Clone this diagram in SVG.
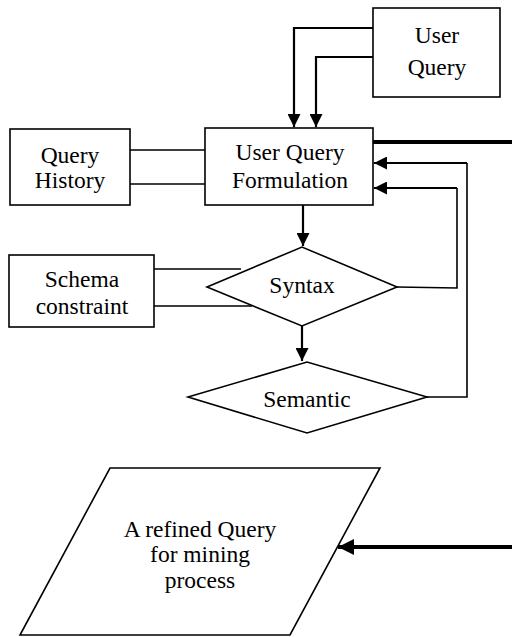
<svg xmlns="http://www.w3.org/2000/svg" width="512" height="637" viewBox="0 0 512 637">
<defs>
<style>
.n{fill:#fff;stroke:#000;stroke-width:1.6}
.c{fill:none;stroke:#000;stroke-width:1.6}
.ct{fill:none;stroke:#000;stroke-width:2.2}
.tk{fill:none;stroke:#000;stroke-width:4}
.t{font-family:'Liberation Serif','Times New Roman','DejaVu Serif',serif;font-size:23.5px;fill:#000;text-anchor:middle}
</style>
<marker id="ah" viewBox="0 0 10 10" refX="10" refY="5" markerWidth="13" markerHeight="13" markerUnits="userSpaceOnUse" orient="auto"><path d="M0,0L10,5L0,10z" fill="#000"/></marker>
<marker id="ah2" viewBox="0 0 10 10" refX="10" refY="5" markerWidth="4" markerHeight="4" orient="auto"><path d="M0,0L10,5L0,10z" fill="#000"/></marker>
</defs>
<g id="connectors">
<path class="ct" d="M373,28H294V127" marker-end="url(#ah)"/>
<path class="ct" d="M373,57H316V127" marker-end="url(#ah)"/>
<path class="c" d="M130,150H205M130,184H205"/>
<path class="ct" d="M303,205V246" marker-end="url(#ah)"/>
<path class="c" d="M154,269H241M154,306H252"/>
<path class="c" d="M397,287L457,288V188"/>
<path class="ct" d="M457,188H374" marker-end="url(#ah)"/>
<path class="c" d="M427,397H467V163"/>
<path class="ct" d="M467,163H374" marker-end="url(#ah)"/>
<path class="ct" d="M302,326V361" marker-end="url(#ah)"/>
<path class="tk" d="M373,142H512"/>
<path class="tk" d="M512,547H338" marker-end="url(#ah2)"/>
</g>
<g id="user-query">
<rect class="n" x="373" y="8" width="127" height="89"/>
<text class="t" x="437" y="43">User</text>
<text class="t" x="437" y="75">Query</text>
</g>
<g id="formulation">
<rect class="n" x="205" y="128" width="168" height="77"/>
<text class="t" x="290" y="160">User Query</text>
<text class="t" x="290" y="188">Formulation</text>
</g>
<g id="query-history">
<rect class="n" x="10" y="129" width="120" height="76"/>
<text class="t" x="70" y="163">Query</text>
<text class="t" x="70" y="188">History</text>
</g>
<g id="schema">
<rect class="n" x="9" y="255" width="145" height="72"/>
<text class="t" x="82" y="287">Schema</text>
<text class="t" x="82" y="314">constraint</text>
</g>
<g id="syntax">
<polygon class="n" points="207,287 302,247 397,287 302,326"/>
<text class="t" x="302" y="293">Syntax</text>
</g>
<g id="semantic">
<polygon class="n" points="188,397 307,362 427,397 307,433"/>
<text class="t" x="307" y="407">Semantic</text>
</g>
<g id="refined">
<polygon class="n" points="110,468 380,468 290,635 20,635"/>
<text class="t" x="200" y="537">A refined Query</text>
<text class="t" x="200" y="562">for mining</text>
<text class="t" x="200" y="588">process</text>
</g>
</svg>
